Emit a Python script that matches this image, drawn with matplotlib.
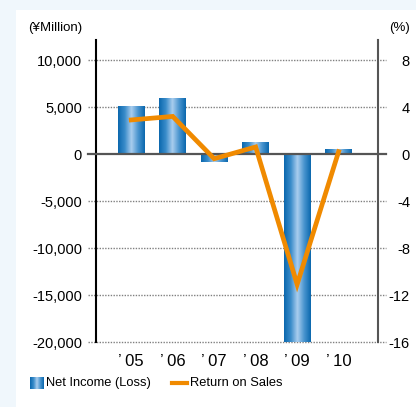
import numpy as np
import matplotlib.pyplot as plt
from matplotlib.colors import LinearSegmentedColormap
from matplotlib.patches import Rectangle
from matplotlib.lines import Line2D

plt.rcParams['font.family'] = ['Liberation Sans', 'DejaVu Sans']

# data
years = ['\u2019\u200905', '\u2019\u200906', '\u2019\u200907',
         '\u2019\u200908', '\u2019\u200909', '\u2019\u200910']
net_income = [5100, 5950, -900, 1300, -20000, 550]          # ¥ million
return_on_sales = [2.9, 3.2, -0.4, 0.6, -11.1, 0.2]          # %
left_ticks = [10000, 5000, 0, -5000, -10000, -15000, -20000]
right_ticks = [8, 4, 0, -4, -8, -12, -16]

W, H = 416, 407
fig = plt.figure(figsize=(W / 100, H / 100), dpi=100)

# background: light top strip, blue gradient strip on the left, white panel
bg = fig.add_axes([0, 0, 1, 1])
bg.set_axis_off()
grad = np.linspace(0, 1, 200).reshape(-1, 1)
bg_cmap = LinearSegmentedColormap.from_list('bgc', ['#eef6fc', '#bde3f7', '#a2d8f3'])
bg.add_patch(Rectangle((0, 0), W, H, color='#f0f7fc', lw=0))
bg.imshow(grad, cmap=bg_cmap, extent=(0, 16, H, 0), aspect='auto')
bg.add_patch(Rectangle((16, 10), W - 16, H - 10, color='white', lw=0))
bg.set_xlim(0, W)
bg.set_ylim(H, 0)

def fx(px):
    return px / W

def fy(py):
    return 1 - py / H

ax = fig.add_axes([fx(96), fy(342), fx(378) - fx(96), fy(40) - fy(342)])
ax.patch.set_alpha(0)
ax2 = ax.twinx()

scale = 1250.0
ymin, ymax = -20000, 12130
x = np.arange(len(years))

# grid lines (dotted, extending past the axes like ticks)
for v in left_ticks:
    if v == 0:
        continue
    ax.plot([-0.03, 1.03], [v, v], transform=ax.get_yaxis_transform(),
            color='#808080', lw=1, ls=(0, (1, 1)), clip_on=False, zorder=1)

# gradient bars
bar_cmap = LinearSegmentedColormap.from_list(
    'barc', ['#0b68ae', '#3a8cca', '#a9cdee', '#4a95cf', '#0b68ae'])
bars = ax.bar(x, net_income, width=0.65, color='none', lw=0, zorder=2)
hgrad = np.linspace(0, 1, 100).reshape(1, -1)
for b in bars:
    x0, y0 = b.get_x(), b.get_y()
    w, h = b.get_width(), b.get_height()
    im = ax.imshow(hgrad, cmap=bar_cmap, extent=(x0, x0 + w, y0, y0 + h),
                   aspect='auto', zorder=2)
    im.set_clip_path(b)
ax.set_xlim(-0.85, len(years) - 1 + 0.95)
ax.set_ylim(ymin, ymax)
ax2.set_ylim(ymin / scale, ymax / scale)

# zero line
ax.plot([-0.03, 1.03], [0, 0], transform=ax.get_yaxis_transform(),
        color='#555555', lw=1.6, clip_on=False, zorder=3)

# return on sales line
ax2.plot(x, return_on_sales, color='#f08a00', lw=3.4, solid_joinstyle='miter',
         zorder=4)

for a in (ax, ax2):
    a.spines['top'].set_visible(False)
    a.spines['bottom'].set_visible(False)
ax.spines['left'].set_color('black')
ax.spines['left'].set_linewidth(1.5)
ax2.spines['left'].set_visible(False)
ax2.spines['right'].set_color('#555555')
ax2.spines['right'].set_linewidth(1.5)
ax.spines['right'].set_visible(False)

ax.set_yticks(left_ticks)
ax.set_yticklabels([f'{v:,}' for v in left_ticks])
ax.tick_params(axis='y', length=0, pad=10, labelsize=10.5)
ax2.set_yticks(right_ticks)
ax2.set_yticklabels([str(v) for v in right_ticks])
ax2.tick_params(axis='y', length=0, pad=23, labelsize=10.5)
for lbl in ax2.get_yticklabels():
    lbl.set_ha('right')
ax.set_xticks(x)
ax.set_xticklabels(years)
ax.tick_params(axis='x', length=0, pad=9, labelsize=12)

fig.text(fx(82), fy(28), '(\u00a5Million)', ha='right', va='center', fontsize=9.5)
fig.text(fx(410), fy(28), '(%)', ha='right', va='center', fontsize=9.5)

# legend
icon = fig.add_axes([fx(30), fy(389), fx(43) - fx(30), fy(377) - fy(389)])
icon.imshow(hgrad, cmap=bar_cmap, aspect='auto')
icon.set_axis_off()
fig.text(fx(46), fy(383), 'Net Income (Loss)', ha='left', va='center', fontsize=9.3)
fig.add_artist(Line2D([fx(172), fx(187)], [fy(383), fy(383)],
                      color='#f08a00', lw=3, transform=fig.transFigure))
fig.text(fx(190), fy(383), 'Return on Sales', ha='left', va='center', fontsize=9.3)

fig.savefig('out.png', dpi=100)
